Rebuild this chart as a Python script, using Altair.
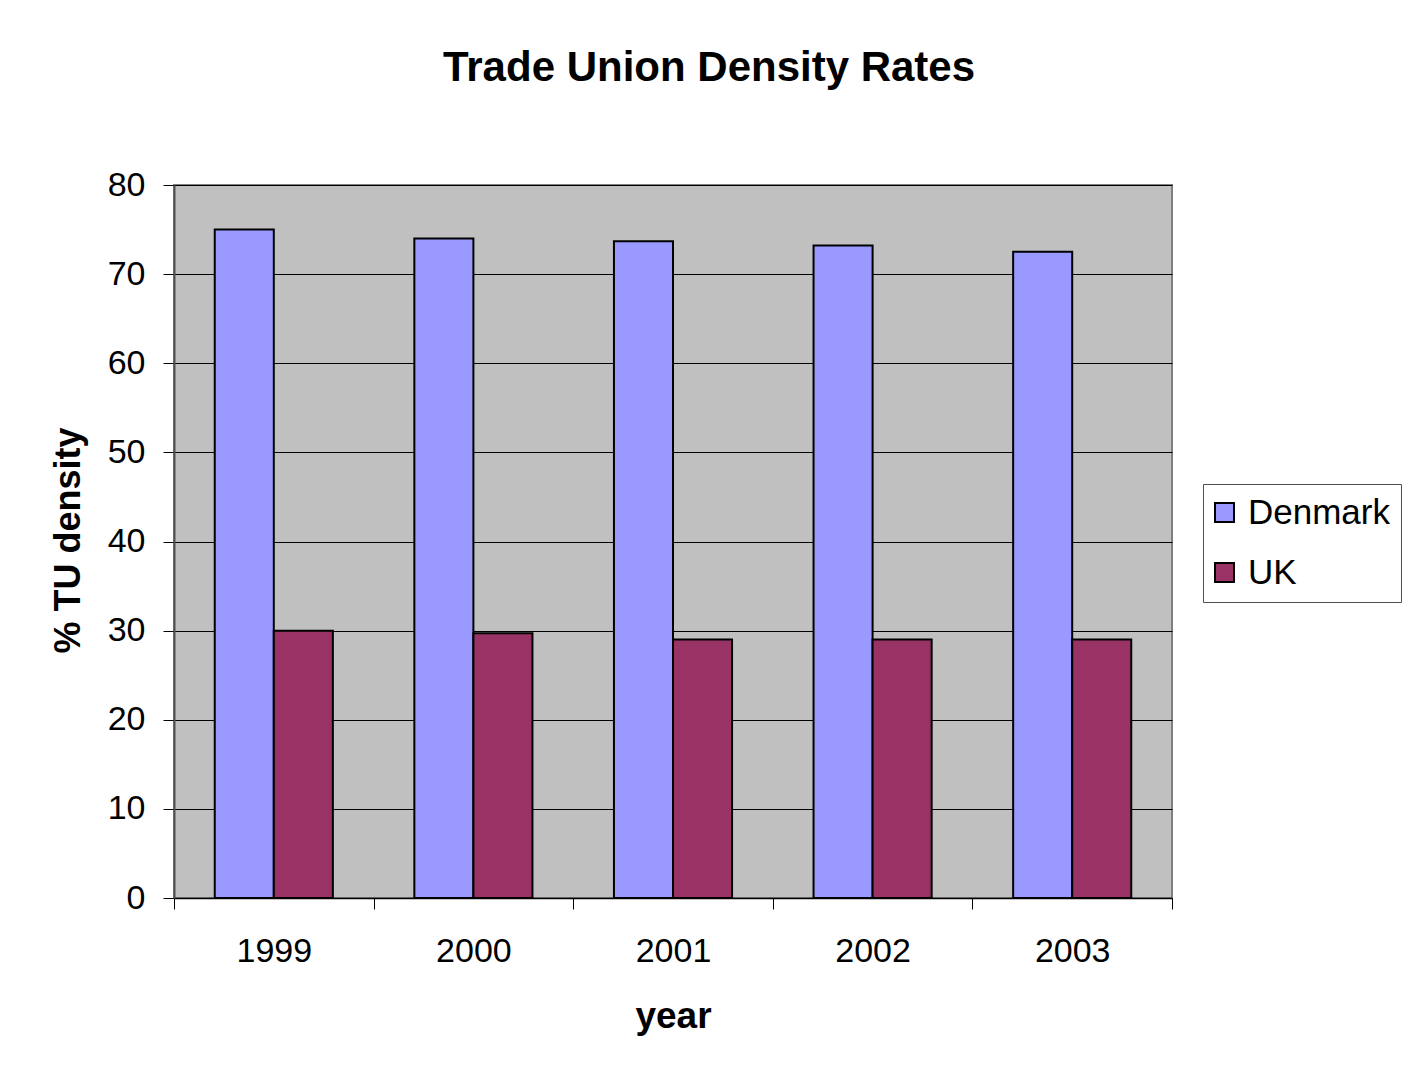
import altair as alt
import pandas as pd

years = ["1999", "2000", "2001", "2002", "2003"]
countries = ["Denmark", "UK"]
denmark = [75.0, 74.0, 73.7, 73.2, 72.5]
uk = [30.0, 29.7, 29.0, 29.0, 29.0]
colors = ["#9999FF", "#993366"]

rows = []
for i, y in enumerate(years):
    rows.append({"year": y, "country": "Denmark", "value": denmark[i]})
    rows.append({"year": y, "country": "UK", "value": uk[i]})
df = pd.DataFrame(rows)

FONT = "Liberation Sans"

bars = alt.Chart(df).mark_bar(stroke="black", strokeWidth=2).encode(
    x=alt.X(
        "year:N",
        sort=years,
        scale=alt.Scale(paddingInner=0, paddingOuter=0),
        axis=alt.Axis(
            title="year",
            labelAngle=0,
            labelFontSize=34,
            labelPadding=25,
            labelColor="black",
            tickBand="extent",
            tickSize=11,
            tickColor="black",
            domainColor="black",
            domainWidth=1.5,
            titleFontSize=37,
            titleFontWeight="bold",
            titleColor="black",
            titleBaseline="alphabetic",
            titleY=129,
            grid=False,
        ),
    ),
    xOffset=alt.XOffset(
        "country:N",
        sort=countries,
        scale=alt.Scale(paddingInner=0, paddingOuter=0.69),
    ),
    y=alt.Y(
        "value:Q",
        scale=alt.Scale(domain=[0, 80], nice=False),
        axis=alt.Axis(
            title="% TU density",
            values=[0, 10, 20, 30, 40, 50, 60, 70, 80],
            labelFontSize=34,
            labelPadding=18,
            labelColor="black",
            tickSize=11,
            tickColor="black",
            domainColor="#505050",
            domainWidth=2,
            grid=True,
            gridColor="black",
            gridWidth=1,
            gridOpacity=1,
            titleFontSize=36,
            titleFontWeight="bold",
            titleColor="black",
            titleAngle=270,
            titleAlign="center",
            titleBaseline="alphabetic",
            titleX=-95,
            titleY=355,
        ),
    ),
    color=alt.Color(
        "country:N",
        scale=alt.Scale(domain=countries, range=colors),
        legend=alt.Legend(
            title=None,
            orient="none",
            legendX=1029,
            legendY=299,
            symbolType="square",
            symbolSize=361,
            symbolStrokeColor="black",
            symbolStrokeWidth=2,
            symbolOffset=-7,
            labelFontSize=35,
            labelColor="black",
            labelOffset=6,
            rowPadding=24,
            padding=11,
            strokeColor="#505050",
            fillColor="white",
        ),
    ),
)

chart = bars.properties(
    width=998,
    height=713,
    title=alt.TitleParams(
        "Trade Union Density Rates",
        fontSize=42,
        fontWeight="bold",
        color="black",
        anchor="middle",
        frame="group",
        baseline="alphabetic",
        offset=45,
        dx=36,
    ),
    autosize=alt.AutoSizeParams(type="none"),
    padding={"left": 174, "top": 185, "right": 235, "bottom": 176},
    background="white",
).configure(
    font=FONT,
).configure_view(
    fill="#C0C0C0",
    stroke="#808080",
    strokeWidth=2,
)

chart.save("out.html", embed_options={"renderer": "svg", "actions": False})
